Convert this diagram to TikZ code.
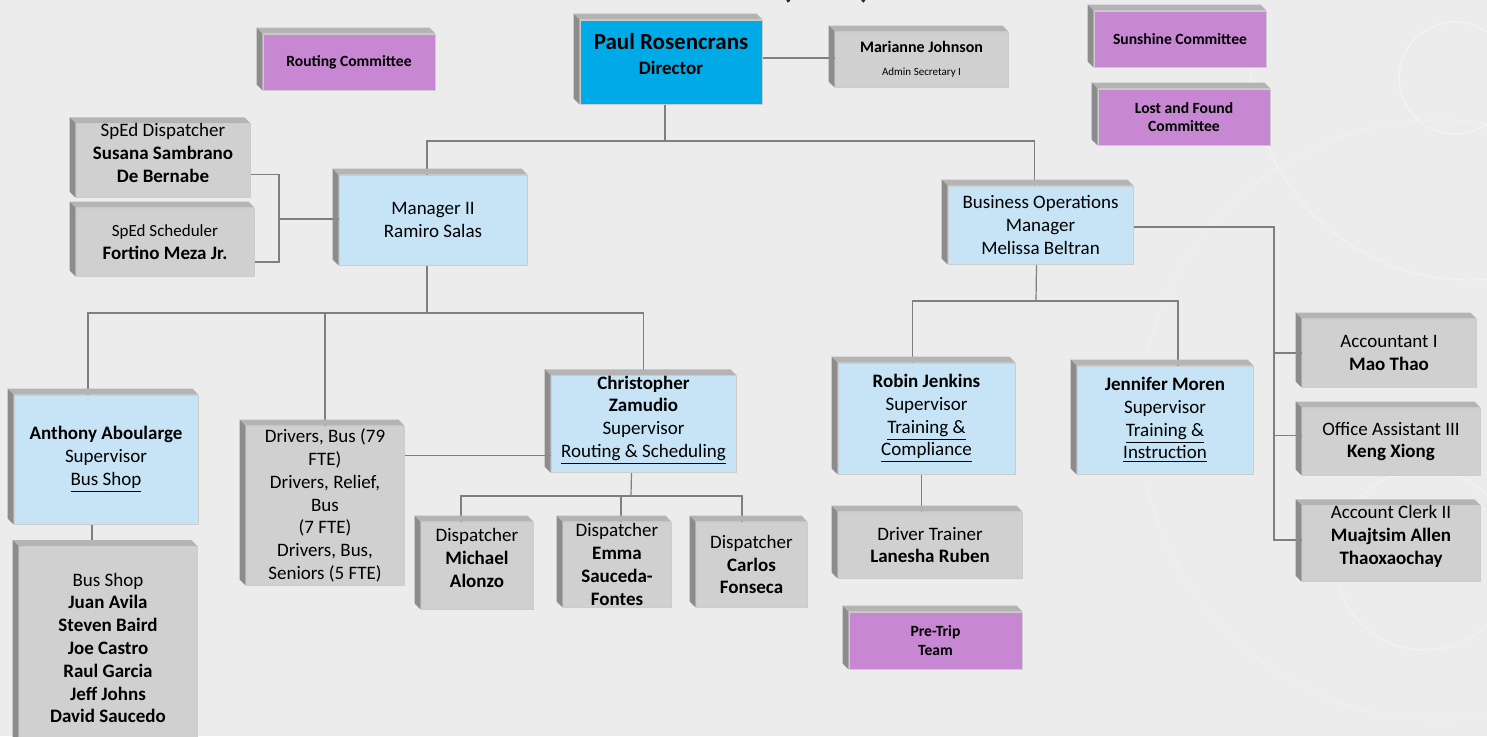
\documentclass[tikz,border=0pt]{standalone}
\usepackage{fontspec}
\setmainfont{Carlito}
\definecolor{bgpaper}{HTML}{ECECEC}
\definecolor{headblue}{HTML}{00AAE6}
\definecolor{leadblue}{HTML}{C6E4F6}
\definecolor{staffgray}{HTML}{D0D0D0}
\definecolor{committee}{HTML}{C787D2}
\definecolor{slabtop}{HTML}{B4B4B4}
\definecolor{slabside}{HTML}{8C8C8C}
\definecolor{linkgray}{HTML}{7F7F7F}
\newcommand{\cmtfont}{\fontsize{7.8}{9.4}\selectfont\bfseries}
\pgfdeclarelayer{bg}
\pgfdeclarelayer{lines}
\pgfsetlayers{bg,lines,main}

\begin{document}
\begin{tikzpicture}[x=0.5pt,y=-0.5pt,
    every node/.style={font=\fontsize{9.5}{11.4}\selectfont, align=center, inner sep=0pt},
    wh/.style 2 args={minimum width=#1pt, minimum height=#2pt},
    slab/.style={fill=#1, draw=black!20, line width=0.4pt,
      append after command={\pgfextra{\begin{pgfinterruptpath}
        \fill[slabtop] (\tikzlastnode.north west) -- ++(-3pt,3pt)
          -- ([shift={(-3pt,3pt)}]\tikzlastnode.north east) -- (\tikzlastnode.north east) -- cycle;
        \fill[slabside] (\tikzlastnode.north west) -- ++(-3pt,3pt)
          -- ([shift={(-3pt,3pt)}]\tikzlastnode.south west) -- (\tikzlastnode.south west) -- cycle;
      \end{pgfinterruptpath}}}},
    link/.style={draw=linkgray, line width=0.6pt}]
    \useasboundingbox (0,0) rectangle (1487,736);
    \begin{pgfonlayer}{bg}
    \fill[bgpaper] (0,0) rectangle (1487,736);
    \draw[white, opacity=.4, line width=0.7pt] (1455,78) circle[radius=28pt];
    \draw[white, opacity=.3, line width=0.7pt] (1470,60) circle[radius=110pt];
    \draw[white, opacity=.3, line width=0.7pt] (1425,560) circle[radius=45pt];
    \draw[white, opacity=.2, line width=0.7pt] (1440,420) circle[radius=150pt];
    \end{pgfonlayer}

    % clipped title
    \node[font=\fontsize{24}{28}\selectfont, anchor=base, text=black!85] (title) at (826,-4) {(\hspace{33pt})};

    \path
    (349,62) node[slab=committee, wh={86}{28}, font=\cmtfont] (routing) {Routing Committee}
    (671,62) node[slab=headblue, wh={91}{42}] (paul)
      {{\fontsize{11.5}{14}\selectfont\bfseries Paul Rosencrans}\\[1pt] \textbf{Director}\\[-3pt]}
    (921.5,59.5) node[slab=staffgray, wh={86.5}{27.5}] (marianne)
      {{\fontsize{8}{9.6}\selectfont\bfseries Marianne Johnson}\\ {\fontsize{5.5}{7}\selectfont Admin Secretary I}}
    (1180,39) node[slab=committee, wh={86}{28}, font=\cmtfont] (sunshine) {Sunshine Committee}
    (1184,117) node[slab=committee, wh={86}{28}, font=\cmtfont] (lostfound) {Lost and Found\\ Committee}
    ;

    \path
    (163,160.5) node[slab=staffgray, wh={87}{34.5}] (spedA)
      {SpEd Dispatcher\\ \textbf{Susana Sambrano}\\ \textbf{De Bernabe}\\[-4pt]}
    (165,242) node[slab=staffgray, wh={89}{34}] (spedB)
      {{\fontsize{8.5}{10}\selectfont SpEd Scheduler}\\ \textbf{Fortino Meza Jr.}}
    (433,220) node[slab=leadblue, wh={94}{45}] (mgr) {Manager II\\ Ramiro Salas}
    (1040.5,225) node[slab=leadblue, wh={92.5}{39}] (bizops)
      {Business Operations\\ Manager\\ Melissa Beltran}
    ;

    \path
    (106,459.5) node[slab=leadblue, wh={92}{64.5}] (anthony)
      {\textbf{Anthony Aboularge}\\ Supervisor\\ \underline{Bus Shop}}
    (108,648) node[slab=staffgray, wh={89}{101.5}] (busshop)
      {Bus Shop\\ \textbf{Juan Avila}\\ \textbf{Steven Baird}\\ \textbf{Joe Castro}\\
       \textbf{Raul Garcia}\\ \textbf{Jeff Johns}\\ \textbf{David Saucedo}}
    (325,505.5) node[slab=staffgray, wh={79}{79.5}] (drivers)
      {Drivers, Bus (79\\ FTE)\\ Drivers, Relief,\\ Bus\\ (7 FTE)\\ Drivers, Bus,\\ Seniors (5 FTE)}
    (643.5,424) node[slab=leadblue, wh={92.5}{47}] (chris)
      {\textbf{Christopher}\\ \textbf{Zamudio}\\ Supervisor\\ \underline{Routing \& Scheduling}\\[-4pt]}
    (477,565.5) node[slab=staffgray, wh={56}{43.5}] (michael)
      {Dispatcher\\ \textbf{Michael}\\ \textbf{Alonzo}\\[-4pt]}
    (617,564.5) node[slab=staffgray, wh={54}{42.5}] (emma)
      {Dispatcher\\ \textbf{Emma}\\ \textbf{Sauceda-}\\ \textbf{Fontes}}
    (751.5,564.5) node[slab=staffgray, wh={55.5}{42.5}] (carlos)
      {Dispatcher\\ \textbf{Carlos}\\ \textbf{Fonseca}}
    ;

    \path
    (926.5,418.5) node[slab=leadblue, wh={88.5}{55.5}] (robin)
      {\textbf{Robin Jenkins}\\ Supervisor\\ \underline{Training \&}\\ \underline{Compliance}}
    (1165,420) node[slab=leadblue, wh={88}{54}] (jennifer)
      {\textbf{Jennifer Moren}\\ Supervisor\\ \underline{Training \&}\\ \underline{Instruction}}
    (930,545) node[slab=staffgray, wh={92}{33}] (trainer) {Driver Trainer\\ \textbf{Lanesha Ruben}}
    (935.5,640.5) node[slab=committee, wh={86.5}{28.5}, font=\cmtfont] (pretrip) {Pre-Trip\\ Team}
    (1389,353) node[slab=staffgray, wh={87}{34}] (acct) {Accountant I\\ \textbf{Mao Thao}}
    (1391,441.5) node[slab=staffgray, wh={89}{33.5}] (office) {Office Assistant III\\ \textbf{Keng Xiong}}
    (1391,543.5) node[slab=staffgray, wh={89}{34.5}] (clerk)
      {Account Clerk II\\ \textbf{Muajtsim Allen}\\ \textbf{Thaoxaochay}\\[-3pt]}
    ;

    \begin{pgfonlayer}{lines}
    \coordinate (rootbar) at (665,141);
    \coordinate (spedjoin) at (279,219);
    \coordinate (mgrbar) at (427,313);
    \coordinate (dispbar) at (631,496);
    \coordinate (bizbar) at (1036,301);
    \coordinate (railend) at (1274,540);

    \draw[link] ([yshift=2pt]paul.east) -- ([yshift=2pt]paul.east -| marianne.west);
    \draw[link] ([xshift=-3pt]paul.south) -- (rootbar);
    \draw[link] ([xshift=-3pt]mgr.north) |- (rootbar) -| ([xshift=-3pt]bizops.north);

    \draw[link] ([yshift=-7pt]spedA.east) -| (spedjoin) |- ([yshift=-10pt]spedB.east);
    \draw[link] (spedjoin) -- (spedjoin -| mgr.west);

    \draw[link] ([xshift=-3pt]mgr.south) -- (mgrbar);
    \draw[link] ([xshift=-9pt]anthony.north) |- (chris.north |- mgrbar) -- (chris.north);
    \draw[link] (drivers.north |- mgrbar) -- (drivers.north);
    \draw[link] ([xshift=-7pt]anthony.south) -- ([xshift=-7pt]anthony.south |- busshop.north);
    \draw[link] ([yshift=25pt]drivers.east) -- ([yshift=25pt]drivers.east -| chris.west);

    \draw[link] ([xshift=-6pt]chris.south) -- (dispbar);
    \draw[link] ([xshift=-8pt]michael.north) |- (dispbar) -| ([xshift=-4.75pt]carlos.north);
    \draw[link] ([xshift=2pt]emma.north) -- ([xshift=2pt]emma.north |- dispbar);

    \draw[link] ([xshift=-2pt]bizops.south) -- (bizbar);
    \draw[link] ([xshift=-7pt]robin.north) |- (bizbar) -| ([xshift=6.5pt]jennifer.north);
    \draw[link] ([xshift=-2.5pt]robin.south) -- ([xshift=-2.5pt]robin.south |- trainer.north);

    \draw[link] ([yshift=-1pt]bizops.east) -| (railend) -- (railend -| clerk.west);
    \draw[link] (acct.west) -- (acct.west -| railend);
    \draw[link] ([yshift=3pt]office.west) -- ([yshift=3pt]office.west -| railend);
    \end{pgfonlayer}
  \end{tikzpicture}
\end{document}
